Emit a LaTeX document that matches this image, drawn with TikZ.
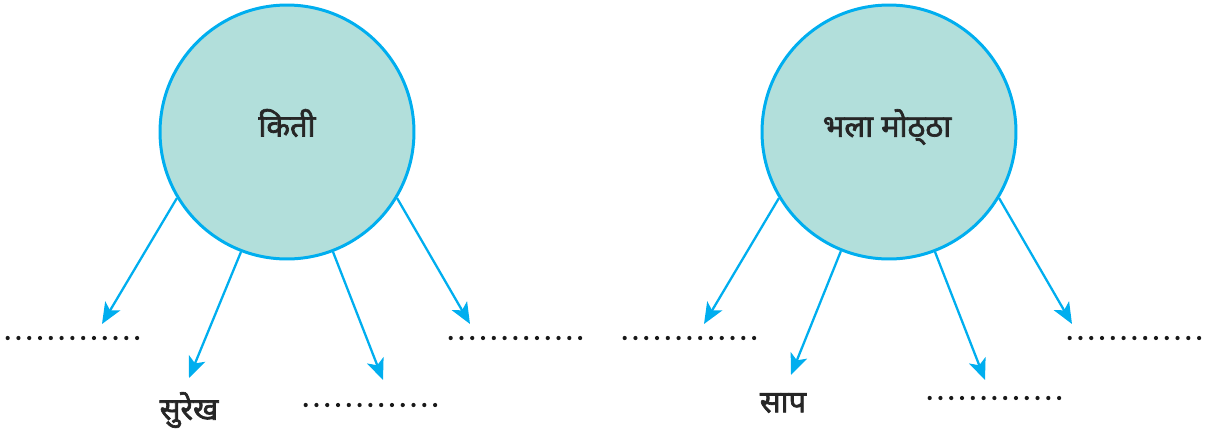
\documentclass[tikz,border=0pt]{standalone}
\usepackage{fontspec}
\setmainfont{Noto Sans}
\newfontfamily\deva[Script=Devanagari, FakeBold=2.2]{Noto Sans}
\usetikzlibrary{arrows.meta}
\definecolor{wheelfill}{RGB}{178,223,219}
\definecolor{spoke}{RGB}{0,174,239}
\tikzset{
  hub/.style={circle, draw=spoke, line width=1.7pt, fill=wheelfill,
    minimum size=5.08cm, inner sep=0pt},
  word/.style={font=\deva\fontsize{17.5}{20}\selectfont, text=black!85},
  spokearrow/.style={-{Stealth[length=12pt,width=10pt,inset=3pt]}, draw=spoke, line width=1.3pt},
  blank/.style={minimum width=2.6cm, minimum height=4pt, inner sep=0pt},
  dotrow/.style={line cap=round, line width=2.4pt, dash pattern=on 0pt off 6.14pt, black!90},
}

\begin{document}
\begin{tikzpicture}[x=0.02cm, y=-0.02cm]
  \useasboundingbox (0,0) rectangle (1215,437);

  % ── Left wheel ──
  \node[hub] (kiti) at (287,132) {};
  \node[word] (kitiw) at (287,123) {किती};

  \node[blank] (kb1) at (73,338) {};
  \node[blank] (kb4) at (516,338) {};
  \node[blank] (kb3) at (371,405) {};
  \node[word] (surekh) at (189,410) {सुरेख};
  \foreach \b in {kb1, kb3, kb4}
    \draw[dotrow] (\b.west) -- ([xshift=0.3pt]\b.east);

  \coordinate (kt1) at (102,324);
  \coordinate (kt2) at (189,378);
  \coordinate (kt3) at (383,380);
  \coordinate (kt4) at (470,324);
  \draw[spokearrow] (kiti.211) -- (kt1);
  \draw[spokearrow] (kiti.249) -- (kt2);
  \draw[spokearrow] (kiti.291) -- (kt3);
  \draw[spokearrow] (kiti.329) -- (kt4);

  % ── Right wheel ──
  \node[hub] (motha) at (889,132) {};
  \node[word] (mothaw) at (887,127) {भला मोठ्^^^^200cठा};

  \node[blank] (mb1) at (690,338) {};
  \node[blank] (mb4) at (1135,338) {};
  \node[blank] (mb3) at (995,398) {};
  \node[word] (saap) at (783,403) {साप};
  \foreach \b in {mb1, mb3, mb4}
    \draw[dotrow] (\b.west) -- ([xshift=0.3pt]\b.east);

  \coordinate (mt1) at (704,324);
  \coordinate (mt2) at (791,375);
  \coordinate (mt3) at (985,380);
  \coordinate (mt4) at (1072,324);
  \draw[spokearrow] (motha.211) -- (mt1);
  \draw[spokearrow] (motha.248) -- (mt2);
  \draw[spokearrow] (motha.291) -- (mt3);
  \draw[spokearrow] (motha.329) -- (mt4);
\end{tikzpicture}
\end{document}
